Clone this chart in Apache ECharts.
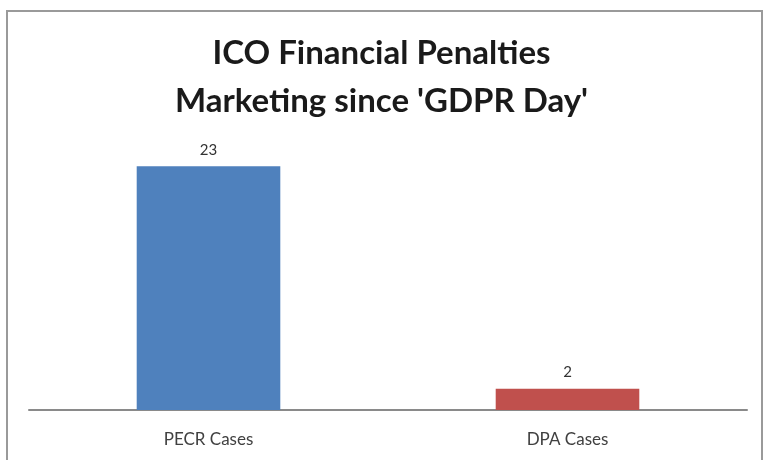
<!DOCTYPE html>
<html>
<head>
<meta charset="utf-8">
<script src="https://cdn.jsdelivr.net/npm/echarts@6/dist/echarts.min.js"></script>
<style>html,body{margin:0;padding:0;background:#fff;}#c{width:763px;height:460px;}</style>
</head>
<body>
<div id="c"></div>
<script>
const categories = ['PECR Cases', 'DPA Cases'];
const values = [23, 2];
const barColors = ['#4F81BD', '#C0504D'];
const titleLines = ['ICO Financial Penalties', "Marketing since 'GDPR Day'"];

const chart = echarts.init(document.getElementById('c'), null, {renderer: 'canvas'});
chart.setOption({
  animation: false,
  backgroundColor: '#ffffff',
  graphic: [{
    type: 'rect',
    shape: {x: 7, y: 11, width: 755, height: 470},
    style: {fill: 'none', stroke: '#9a9a9a', lineWidth: 2},
    silent: true
  }],
  title: {
    text: titleLines.join('\n'),
    left: 'center',
    top: 24,
    textStyle: {fontFamily: 'Lato', fontWeight: 'bold', fontSize: 33, lineHeight: 48, color: '#1a1a1a'}
  },
  grid: {left: 29, right: 16, top: 145, bottom: 50},
  xAxis: {
    type: 'category',
    data: categories,
    axisTick: {show: false},
    axisLine: {lineStyle: {color: '#8a8a8a', width: 2}},
    axisLabel: {fontFamily: 'Lato', fontSize: 17, color: '#404040', margin: 21}
  },
  yAxis: {
    type: 'value', min: 0, max: 25, interval: 5,
    show: false,
    splitLine: {show: false}
  },
  series: [{
    type: 'bar',
    barWidth: '40%',
    data: values.map((v, i) => ({value: v, itemStyle: {color: barColors[i]}})),
    label: {show: true, position: 'top', distance: 9, fontFamily: 'Lato', fontSize: 15, color: '#333333'}
  }]
});
</script>
</body>
</html>
